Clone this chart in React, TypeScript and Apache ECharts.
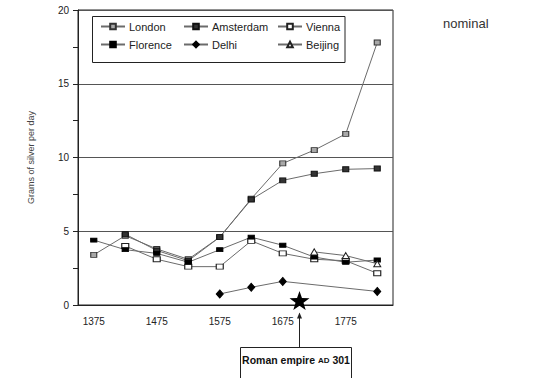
import React, { useEffect, useRef } from "react";
import * as echarts from "echarts";

const years = ["1375", "1425", "1475", "1525", "1575", "1625", "1675", "1725", "1775", "1825"];
const london = [3.4, 4.7, 3.8, 3.1, 4.6, 7.2, 9.6, 10.5, 11.6, 17.8];
const amsterdam = [null, 4.8, 3.7, 3.0, 4.6, 7.15, 8.45, 8.9, 9.2, 9.25];
const vienna = [null, 4.0, 3.1, 2.6, 2.6, 4.35, 3.5, 3.1, 3.0, 2.15];
const florence = [4.4, 3.75, 3.5, 2.9, 3.75, 4.6, 4.05, 3.25, 2.9, 3.05];
const delhi = [null, null, null, null, 0.75, 1.2, 1.6, null, null, 0.92];
const beijing = [null, null, null, null, null, null, null, 3.6, 3.35, 2.8];
const yTicks = [0, 5, 10, 15, 20];

const FONT = "Liberation Sans, Arial, sans-serif";
const LINE = "#6b6b6b";

function mk(name: string, data: (number | null)[], symbol: string, size: any, fill: string, border: string, connect = false) {
  return {
    name,
    type: "line",
    data,
    symbol,
    symbolSize: size,
    connectNulls: connect,
    lineStyle: { color: LINE, width: 1 },
    itemStyle: { color: fill, borderColor: border, borderWidth: 1 },
    emphasis: { disabled: true },
    z: 3,
  };
}

export default function App() {
  const ref = useRef<HTMLDivElement>(null);
  useEffect(() => {
    if (!ref.current) return;
    const chart = echarts.init(ref.current, null, { renderer: "svg" });
    const legendBase = {
      orient: "vertical",
      top: 21,
      itemWidth: 24,
      itemHeight: 7,
      itemGap: 7,
      textStyle: { fontFamily: FONT, fontSize: 11, color: "#222", padding: [0, 0, 0, -1] },
      padding: 0,
      selectedMode: false,
    };
    chart.setOption({
      animation: false,
      textStyle: { fontFamily: FONT },
      title: {
        text: "nominal",
        left: 438,
        top: 12,
        textStyle: { fontFamily: FONT, fontSize: 13, fontWeight: "normal", color: "#333" },
      },
      grid: { left: 78, top: 10, right: 149, bottom: 73, show: true, borderColor: "#222", borderWidth: 1, backgroundColor: "transparent" },
      legend: [
        { ...legendBase, left: 100, data: ["London", "Florence"] },
        { ...legendBase, left: 183, data: ["Amsterdam", "Delhi"] },
        { ...legendBase, left: 277, data: ["Vienna", "Beijing"] },
      ],
      xAxis: {
        type: "category",
        data: years,
        boundaryGap: true,
        axisLine: { lineStyle: { color: "#222", width: 1 } },
        axisTick: { alignWithLabel: true, interval: 0, length: 6, lineStyle: { color: "#222" } },
        axisLabel: { interval: 1, margin: 11, fontSize: 10, color: "#222", fontFamily: FONT },
        splitLine: { show: false },
      },
      yAxis: {
        type: "value",
        min: yTicks[0],
        max: yTicks[yTicks.length - 1],
        interval: 5,
        name: "Grams of silver per day",
        nameLocation: "middle",
        nameGap: 43,
        nameTextStyle: { fontSize: 9, color: "#444", fontFamily: FONT },
        axisLine: { show: true, lineStyle: { color: "#222", width: 1 } },
        axisTick: { show: true, length: 5, lineStyle: { color: "#222" } },
        minorTick: { show: true, splitNumber: 2, length: 5, lineStyle: { color: "#222" } },
        axisLabel: { margin: 9, fontSize: 10, color: "#222", fontFamily: FONT },
        splitLine: { show: true, lineStyle: { color: "#555", width: 1 } },
      },
      series: [
        mk("London", london, "rect", [6, 5], "#a8a8a8", "#333"),
        mk("Amsterdam", amsterdam, "rect", [6, 5], "#333", "#111"),
        mk("Vienna", vienna, "rect", [7, 5], "#fff", "#222"),
        mk("Florence", florence, "rect", [6, 4], "#000", "#000"),
        mk("Delhi", delhi, "diamond", [7, 8], "#000", "#000", true),
        mk("Beijing", beijing, "triangle", [7, 6], "#fff", "#222"),
      ],
    });

    const a = chart.convertToPixel({ gridIndex: 0 }, ["1675", 0]) as number[];
    const b = chart.convertToPixel({ gridIndex: 0 }, ["1725", 0]) as number[];
    const cx = (a[0] + b[0]) / 2 + 1;
    const cy = a[1] - 3.5;
    const R = 10.5, r = 4.2;
    const pts: number[][] = [];
    for (let i = 0; i < 10; i++) {
      const ang = -Math.PI / 2 + (i * Math.PI) / 5;
      const rr = i % 2 === 0 ? R : r;
      pts.push([cx + rr * Math.cos(ang), cy + rr * Math.sin(ang)]);
    }
    const boxTop = 347.5;
    chart.setOption({
      graphic: [
        {
          type: "rect",
          z: 1,
          shape: { x: 92.5, y: 16.5, width: 252.5, height: 46 },
          style: { fill: "#fff", stroke: "#222", lineWidth: 1 },
          silent: true,
        },
        { type: "polygon", z: 10, shape: { points: pts }, style: { fill: "#000" }, silent: true },
        {
          type: "line",
          z: 10,
          shape: { x1: cx, y1: cy + 12, x2: cx, y2: boxTop },
          style: { stroke: "#222", lineWidth: 1 },
          silent: true,
        },
        {
          type: "polygon",
          z: 10,
          shape: { points: [[cx, cy + 11], [cx - 2.5, cy + 17], [cx + 2.5, cy + 17]] },
          style: { fill: "#222" },
          silent: true,
        },
        {
          type: "rect",
          z: 10,
          shape: { x: 240.5, y: boxTop, width: 111, height: 40 },
          style: { fill: "#fff", stroke: "#222", lineWidth: 1 },
          silent: true,
        },
        {
          type: "text",
          z: 11,
          x: 296,
          y: 360,
          style: {
            text: "{b|Roman empire }{s|AD}{b| 301}",
            align: "center",
            verticalAlign: "middle",
            rich: {
              b: { fontFamily: FONT, fontSize: 10.5, fontWeight: "bold", fill: "#111" },
              s: { fontFamily: FONT, fontSize: 8, fontWeight: "bold", fill: "#111" },
            },
          },
          silent: true,
        },
      ],
    });
    return () => chart.dispose();
  }, []);
  return <div ref={ref} style={{ width: 542, height: 378, position: "absolute", left: 0, top: 0 }} />;
}
